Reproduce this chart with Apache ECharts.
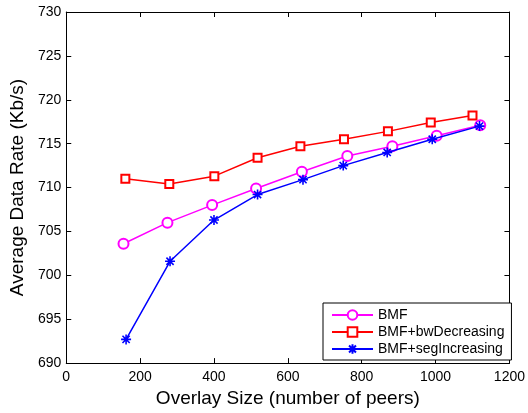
<!DOCTYPE html>
<html lang="en">
<head>
  <meta charset="UTF-8">
  <title>Average Data Rate vs Overlay Size</title>
  <script src="https://cdn.jsdelivr.net/npm/echarts@6/dist/echarts.min.js"></script>
  <style>
    body { margin: 0; background: #fff; }
  </style>
</head>
<body>
  <div id="main" style="width: 528px; height: 413px;"></div>

  <script>
    // data
    const xTicks = [0, 200, 400, 600, 800, 1000, 1200];
    const yTicks = [690, 695, 700, 705, 710, 715, 720, 725, 730];

    const bmfX = [155, 274, 395, 514, 638, 761, 883, 1003, 1121];
    const bmfY = [703.6, 706.0, 708.0, 709.9, 711.8, 713.6, 714.7, 715.9, 717.1];

    const bwX = [160, 279, 401, 518, 634, 752, 871, 987, 1100];
    const bwY = [711.0, 710.4, 711.3, 713.4, 714.7, 715.5, 716.4, 717.4, 718.2];

    const segX = [162, 281, 400, 518, 641, 750, 869, 991, 1119];
    const segY = [692.7, 701.6, 706.3, 709.2, 710.9, 712.5, 714.0, 715.5, 717.0];

    const pairs = (xs, ys) => xs.map((x, i) => [x, ys[i]]);

    const font = 'Liberation Sans, Arial, Helvetica, sans-serif';
    const asterisk = 'path://M0,-5L0,5M-5,0L5,0M-3.6,-3.6L3.6,3.6M-3.6,3.6L3.6,-3.6';

    const myChart = echarts.init(document.getElementById('main'));

    // shared look for the boxed MATLAB-style axes
    const axisBase = {
      type: 'value',
      axisLine: { show: true, onZero: false, lineStyle: { color: '#000', width: 1 } },
      axisTick: { show: true, inside: true, length: 5, lineStyle: { color: '#000' } },
      splitLine: { show: false }
    };

    const options = {
      backgroundColor: '#fff',
      animation: false,
      grid: { left: 63.5, right: 16, top: 12, bottom: 47.5 },
      xAxis: [
        Object.assign({}, axisBase, {
          min: xTicks[0], max: xTicks[xTicks.length - 1], interval: 200,
          position: 'bottom',
          name: 'Overlay Size (number of peers)',
          nameLocation: 'middle',
          nameGap: 23,
          nameTextStyle: { fontFamily: font, fontSize: 19, color: '#000' },
          axisLabel: { fontFamily: font, fontSize: 14, color: '#000', margin: 7, formatter: v => String(v) }
        }),
        Object.assign({}, axisBase, {
          min: xTicks[0], max: xTicks[xTicks.length - 1], interval: 200,
          position: 'top',
          axisLabel: { show: false }
        })
      ],
      yAxis: [
        Object.assign({}, axisBase, {
          min: yTicks[0], max: yTicks[yTicks.length - 1], interval: 5,
          position: 'left',
          name: 'Average Data Rate (Kb/s)',
          nameLocation: 'middle',
          nameGap: 33,
          nameTextStyle: { fontFamily: font, fontSize: 19, color: '#000' },
          axisLabel: { fontFamily: font, fontSize: 14, color: '#000', margin: 5, formatter: v => String(v) }
        }),
        Object.assign({}, axisBase, {
          min: yTicks[0], max: yTicks[yTicks.length - 1], interval: 5,
          position: 'right',
          axisLabel: { show: false }
        })
      ],
      legend: {
        orient: 'vertical',
        left: 323,
        top: 303,
        padding: [5, 7, 4, 8],
        itemGap: 3,
        itemWidth: 41,
        itemHeight: 12,
        borderColor: '#000',
        borderWidth: 1,
        backgroundColor: '#fff',
        textStyle: { fontFamily: font, fontSize: 14, color: '#000', lineHeight: 14 },
        data: ['BMF', 'BMF+bwDecreasing', 'BMF+segIncreasing']
      },
      series: [
        {
          name: 'BMF',
          type: 'line',
          data: pairs(bmfX, bmfY),
          symbol: 'emptyCircle',
          symbolSize: 10,
          color: '#ff00ff',
          lineStyle: { width: 1.5, color: '#ff00ff' },
          itemStyle: { color: '#ff00ff', borderWidth: 1.5 },
          z: 3
        },
        {
          name: 'BMF+bwDecreasing',
          type: 'line',
          data: pairs(bwX, bwY),
          symbol: 'emptyRect',
          symbolSize: 8,
          color: '#ff0000',
          lineStyle: { width: 1.5, color: '#ff0000' },
          itemStyle: { color: '#ff0000', borderWidth: 1.5 },
          z: 2
        },
        {
          name: 'BMF+segIncreasing',
          type: 'line',
          data: pairs(segX, segY),
          symbol: asterisk,
          symbolSize: 10,
          color: '#0000ff',
          lineStyle: { width: 1.5, color: '#0000ff' },
          itemStyle: { color: '#0000ff', borderColor: '#0000ff', borderWidth: 1.6 },
          z: 4
        }
      ]
    };

    myChart.setOption(options);
  </script>
</body>
</html>
